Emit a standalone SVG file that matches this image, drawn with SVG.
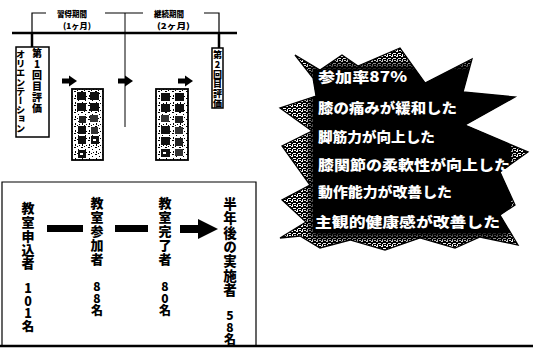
<svg xmlns="http://www.w3.org/2000/svg" width="533" height="349" viewBox="0 0 533 349">
<style>
.t{font-family:"Noto Sans CJK JP","Noto Sans CJK SC",sans-serif;font-weight:900;fill:#000}
.w{font-family:"Noto Sans CJK JP","Noto Sans CJK SC",sans-serif;font-weight:900;fill:#fff;font-size:14px}
.v{writing-mode:vertical-rl;text-orientation:upright}
.ln{stroke:#000;fill:none}
</style>
<defs>
<pattern id="speck" width="7" height="7" patternUnits="userSpaceOnUse">
<rect width="7" height="7" fill="#fff"/>
<rect x="1" y="2" width="1" height="1" fill="#000"/>
<rect x="4" y="0" width="2" height="1" fill="#000"/>
<rect x="5" y="4" width="1" height="2" fill="#000"/>
<rect x="2" y="5" width="1" height="1" fill="#000"/>
<rect x="0" y="6" width="1" height="1" fill="#000"/>
</pattern>
<pattern id="grey" width="5" height="5" patternUnits="userSpaceOnUse">
<rect width="5" height="5" fill="#000"/>
<rect x="1" y="1" width="1" height="1" fill="#fff"/>
<rect x="3" y="3" width="2" height="1" fill="#fff"/>
<rect x="4" y="0" width="1" height="1" fill="#fff"/>
<rect x="0" y="3" width="1" height="1" fill="#fff"/>
<rect x="2" y="4" width="1" height="1" fill="#fff"/>
<rect x="2" y="0" width="1" height="2" fill="#fff"/>
<rect x="0" y="0" width="1" height="1" fill="#fff"/>
</pattern>
<filter id="blur" x="-10%" y="-10%" width="120%" height="120%"><feGaussianBlur stdDeviation="4"/></filter>
<clipPath id="starclip">
<polygon points="295,55 320,70 342,55 358,66 400,48 425,83 472,59 463,92 515,97 465,125 528,152 500,172 515,205 500,215 518,245 480,237 455,248 420,238 385,250 350,240 320,248 300,236 280,238 306,222 282,200 310,185 282,146 312,131 280,108 316,96 313,78"/>
</clipPath>
<g id="blockArrowSmall"><rect x="0" y="-2.5" width="8" height="5" fill="#000"/><polygon points="7,-5.5 15,0 7,5.5" fill="#000"/></g>
</defs>

<g id="connectors">
<line class="ln" x1="12" y1="33" x2="237" y2="33" stroke-width="2.5"/>
<polyline class="ln" points="46,13 32,13 32,33" stroke-width="1.2"/>
<line class="ln" x1="32" y1="33" x2="32" y2="47" stroke-width="2.5"/>
<line class="ln" x1="105" y1="13" x2="143" y2="13" stroke-width="1.2"/>
<line class="ln" x1="125" y1="13" x2="125" y2="127" stroke-width="1"/>
<polyline class="ln" points="204,13 219,13 219,33" stroke-width="1.2"/>
<line class="ln" x1="219" y1="33" x2="219" y2="48" stroke-width="2.5"/>
<use href="#blockArrowSmall" x="62" y="81"/>
<use href="#blockArrowSmall" x="118" y="81"/>
<use href="#blockArrowSmall" x="178" y="81"/>
<rect x="47" y="225" width="36" height="7" fill="#000"/>
<rect x="115" y="225" width="33" height="7" fill="#000"/>
<rect x="180" y="225" width="19" height="8" fill="#000"/>
<polygon points="198,219 218,229 198,239" fill="#000"/>
</g>

<g id="period-labels">
<text class="t" x="57" y="17" font-size="8" textLength="30" lengthAdjust="spacingAndGlyphs">習得期間</text>
<text class="t" x="63" y="28.5" font-size="8" textLength="28" lengthAdjust="spacingAndGlyphs">(1ヶ月)</text>
<text class="t" x="154" y="17" font-size="8" textLength="30" lengthAdjust="spacingAndGlyphs">継続期間</text>
<text class="t" x="157" y="28.5" font-size="8" textLength="33" lengthAdjust="spacingAndGlyphs">(2ヶ月)</text>
</g>

<g id="node-orientation">
<rect x="16" y="47" width="33" height="90" fill="#fff" stroke="#000" stroke-width="1.5"/>
<text class="t v" x="20.5" y="50" font-size="9.2">オリエンテーション</text>
<text class="t v" x="37" y="48" font-size="10" letter-spacing="1">第1回目評価</text>
</g>

<g id="node-eval2">
<rect x="212" y="48" width="11" height="60" fill="#fff" stroke="#000" stroke-width="1.5"/>
<text class="t v" x="217.5" y="50" font-size="9" letter-spacing="0.8">第2回目評価</text>
</g>

<g id="node-classA">
<rect x="72" y="89" width="31" height="71" fill="url(#speck)" stroke="#000" stroke-width="1.8"/>
<rect x="77" y="92" width="9" height="8" fill="#111"/><rect x="90" y="92" width="9" height="8" fill="#111"/>
<rect x="77" y="103" width="9" height="8" fill="#111"/><rect x="90" y="103" width="9" height="8" fill="#111"/>
<rect x="79" y="116" width="7" height="7" fill="#222"/><rect x="90" y="115" width="8" height="7" fill="#333"/>
<rect x="78" y="126" width="8" height="8" fill="#111"/><rect x="91" y="127" width="7" height="7" fill="#333"/>
<rect x="78" y="136" width="8" height="8" fill="#111"/><rect x="91" y="136" width="8" height="8" fill="#111"/>
<rect x="78" y="150" width="8" height="8" fill="#111"/>
<rect x="93" y="139" width="3" height="2" fill="#fff"/><rect x="80" y="153" width="3" height="2" fill="#fff"/>
</g>

<g id="node-classB">
<rect x="156" y="89" width="32" height="71" fill="url(#speck)" stroke="#000" stroke-width="1.8"/>
<rect x="161" y="93" width="9" height="8" fill="#111"/><rect x="175" y="93" width="9" height="8" fill="#111"/>
<rect x="161" y="104" width="9" height="8" fill="#111"/><rect x="175" y="104" width="9" height="8" fill="#111"/>
<rect x="161" y="115" width="8" height="7" fill="#333"/><rect x="175" y="116" width="8" height="7" fill="#222"/>
<rect x="161" y="126" width="9" height="8" fill="#111"/><rect x="175" y="127" width="8" height="7" fill="#333"/>
<rect x="161" y="137" width="9" height="8" fill="#111"/><rect x="175" y="138" width="8" height="8" fill="#222"/>
<rect x="161" y="149" width="9" height="8" fill="#111"/><rect x="175" y="149" width="8" height="7" fill="#333"/>
<rect x="163" y="152" width="3" height="2" fill="#fff"/>
</g>

<g id="node-results">
<polygon points="295,55 320,70 342,55 358,66 400,48 425,83 472,59 463,92 515,97 465,125 528,152 500,172 515,205 500,215 518,245 480,237 455,248 420,238 385,250 350,240 320,248 300,236 280,238 306,222 282,200 310,185 282,146 312,131 280,108 316,96 313,78" fill="url(#grey)" stroke="#000" stroke-width="1.3"/>
<g clip-path="url(#starclip)">
<rect x="310" y="64" width="200" height="174" fill="#000" filter="url(#blur)"/>
<rect x="313" y="70" width="198" height="162" fill="#000"/>
</g>
<text class="w" x="318" y="82" textLength="89" lengthAdjust="spacingAndGlyphs">参加率87%</text>
<text class="w" x="318" y="113" textLength="139" lengthAdjust="spacingAndGlyphs">膝の痛みが緩和した</text>
<text class="w" x="318" y="142" textLength="117" lengthAdjust="spacingAndGlyphs">脚筋力が向上した</text>
<text class="w" x="318" y="170" textLength="192" lengthAdjust="spacingAndGlyphs">膝関節の柔軟性が向上した</text>
<text class="w" x="318" y="197" textLength="134" lengthAdjust="spacingAndGlyphs">動作能力が改善した</text>
<text class="w" x="315" y="227" textLength="185" lengthAdjust="spacingAndGlyphs">主観的健康感が改善した</text>
</g>

<g id="panel-frame">
<polyline class="ln" points="2,345 2,182 256,182 256,347" stroke-width="1.2"/>
<line class="ln" x1="0" y1="346" x2="533" y2="346" stroke-width="2.5"/>
</g>

<g id="node-applicants">
<text class="t v" x="28" y="202" font-size="13" letter-spacing="0.7">教室申込者</text>
<text class="t v" x="28" y="282" font-size="12.5">101名</text>
</g>
<g id="node-participants">
<text class="t v" x="97" y="197" font-size="13" letter-spacing="1">教室参加者</text>
<text class="t v" x="97" y="280" font-size="12">88名</text>
</g>
<g id="node-completers">
<text class="t v" x="165" y="197" font-size="13" letter-spacing="1">教室完了者</text>
<text class="t v" x="165" y="280" font-size="12">80名</text>
</g>
<g id="node-continuers">
<text class="t v" x="230" y="197" font-size="13.5" letter-spacing="0.9">半年後の実施者</text>
<text class="t v" x="230" y="309" font-size="12">58名</text>
</g>
</svg>
